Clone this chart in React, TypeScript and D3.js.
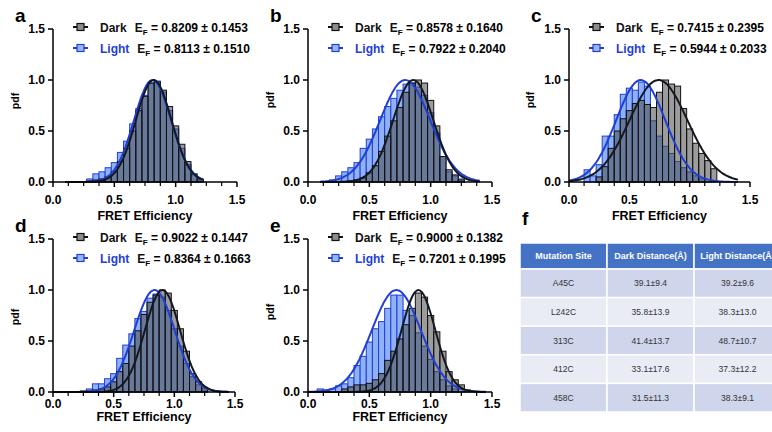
import React from "react";
import * as d3 from "d3";

// histogram bins (bin centres, width 0.05)
const binCenters = [0.10, 0.15, 0.20, 0.25, 0.30, 0.35, 0.40, 0.45, 0.50, 0.55, 0.60, 0.65, 0.70, 0.75, 0.80, 0.85, 0.90, 0.95, 1.00, 1.05, 1.10, 1.15, 1.20, 1.25, 1.30, 1.35, 1.40, 1.45];
const binWidth = 0.05;

const darkA = [0, 0, 0, 0, 0.01, 0.02, 0.03, 0.05, 0.10, 0.20, 0.33, 0.50, 0.70, 0.84, 0.97, 0.98, 0.90, 0.74, 0.55, 0.37, 0.20, 0.08, 0.03, 0, 0, 0, 0, 0];
const lightA = [0, 0, 0, 0, 0.03, 0.08, 0.10, 0.14, 0.19, 0.29, 0.40, 0.57, 0.72, 0.85, 0.97, 0.99, 0.88, 0.70, 0.52, 0.33, 0.17, 0.07, 0.02, 0, 0, 0, 0, 0];
const darkB = [0, 0, 0, 0, 0, 0.01, 0.02, 0.04, 0.09, 0.16, 0.30, 0.45, 0.60, 0.73, 0.88, 0.97, 1.0, 0.97, 0.80, 0.55, 0.25, 0.12, 0.07, 0.02, 0, 0, 0, 0];
const lightB = [0, 0, 0.02, 0.06, 0.10, 0.14, 0.19, 0.33, 0.42, 0.52, 0.64, 0.74, 0.82, 0.90, 0.96, 0.97, 0.93, 0.85, 0.68, 0.48, 0.25, 0.10, 0.06, 0.03, 0, 0, 0, 0];
const darkC = [0, 0, 0, 0.05, 0.15, 0.33, 0.50, 0.62, 0.70, 0.77, 0.80, 0.76, 0.73, 0.88, 1.0, 0.96, 0.94, 0.72, 0.52, 0.38, 0.28, 0.21, 0.13, 0, 0, 0, 0, 0];
const lightC = [0, 0.12, 0.06, 0.17, 0.45, 0.45, 0.66, 0.86, 0.92, 0.90, 0.98, 0.94, 0.60, 0.45, 0.35, 0.28, 0.20, 0.14, 0.10, 0.06, 0.03, 0, 0, 0, 0, 0, 0, 0];
const darkD = [0, 0, 0, 0.01, 0.01, 0.02, 0.03, 0.05, 0.10, 0.20, 0.28, 0.45, 0.60, 0.76, 0.88, 0.95, 1.0, 0.97, 0.80, 0.62, 0.40, 0.18, 0.10, 0.04, 0, 0, 0, 0];
const lightD = [0, 0, 0, 0, 0.03, 0.08, 0.08, 0.13, 0.18, 0.33, 0.46, 0.57, 0.72, 0.79, 0.92, 0.96, 0.93, 0.80, 0.62, 0.45, 0.28, 0.15, 0.07, 0.02, 0, 0, 0, 0];
const darkE = [0, 0, 0, 0, 0.03, 0.05, 0.07, 0.07, 0.085, 0.12, 0.18, 0.31, 0.40, 0.52, 0.66, 0.82, 0.97, 0.93, 0.75, 0.59, 0.40, 0.20, 0.12, 0.07, 0.02, 0, 0, 0];
const lightE = [0.03, 0.02, 0.03, 0.06, 0.08, 0.14, 0.26, 0.35, 0.49, 0.62, 0.69, 0.82, 0.95, 0.95, 0.80, 0.75, 0.58, 0.45, 0.32, 0.20, 0.12, 0.06, 0.03, 0, 0, 0, 0, 0];

// legend values (E_F mean ± sd), also used for the gaussian fit lines
const darkMean = [0.8209, 0.8578, 0.7415, 0.9022, 0.9000];
const darkSd = [0.1453, 0.1640, 0.2395, 0.1447, 0.1382];
const lightMean = [0.8113, 0.7922, 0.5944, 0.8364, 0.7201];
const lightSd = [0.1510, 0.2040, 0.2033, 0.1663, 0.1995];
const fitStart = [0.1, 0.1, 0.0, 0.0, 0.0];
const fitEnd = [1.22, 1.4, 1.4, 1.45, 1.45];

const letters = ["a", "b", "c", "d", "e"];
const xTicks = [0, 0.5, 1.0, 1.5];
const xMinor = [0.125, 0.25, 0.375, 0.625, 0.75, 0.875, 1.125, 1.25, 1.375];
const yTicks = [0, 0.5, 1.0, 1.5];

// table f
const tableHeader = ["Mutation Site", "Dark Distance(Å)", "Light Distance(Å)"];
const sites = ["A45C", "L242C", "313C", "412C", "458C"];
const darkDist = ["39.1±9.4", "35.8±13.9", "41.4±13.7", "33.1±17.6", "31.5±11.3"];
const lightDist = ["39.2±9.6", "38.3±13.0", "48.7±10.7", "37.3±12.2", "38.3±9.1"];

const FONT = "'Liberation Sans', Arial, Helvetica, sans-serif";
const BLUE = "#1f3fd6";

const layout = [
  { x0: 53, x1: 237, y0: 182, y1: 29, tickDy: 22, titleDy: 38, pdfX: 19, pdfY: 101 },
  { x0: 308, x1: 492, y0: 182, y1: 29, tickDy: 22, titleDy: 38, pdfX: 274, pdfY: 100 },
  { x0: 569, x1: 750, y0: 182, y1: 29, tickDy: 22, titleDy: 38, pdfX: 534, pdfY: 100 },
  { x0: 53, x1: 235, y0: 392, y1: 239, tickDy: 16, titleDy: 29, pdfX: 19, pdfY: 317 },
  { x0: 308, x1: 492, y0: 392, y1: 239, tickDy: 16, titleDy: 29, pdfX: 274, pdfY: 312 },
];

const darkSets = [darkA, darkB, darkC, darkD, darkE];
const lightSets = [lightA, lightB, lightC, lightD, lightE];

function Panel({ i }: { i: number }) {
  const L = layout[i];
  const x = d3.scaleLinear().domain([0, 1.5]).range([L.x0, L.x1]);
  const y = d3.scaleLinear().domain([0, 1.5]).range([L.y0, L.y1]);
  const line = d3.line<number>().x((t) => x(t)).curve(d3.curveBasis);
  const samples = d3.range(fitStart[i], fitEnd[i] + 1e-9, 0.01);
  const gauss = (m: number, s: number) =>
    line.y((t) => y(Math.exp(-((t - m) ** 2) / (2 * s * s))))(samples) || "";

  const bars = (vals: number[], fill: string, fillOp: number, stroke: string) =>
    binCenters.map((c, k) =>
      vals[k] > 0 ? (
        <rect
          key={k}
          x={x(c - binWidth / 2)}
          y={y(vals[k])}
          width={x(c + binWidth / 2) - x(c - binWidth / 2)}
          height={y(0) - y(vals[k])}
          fill={fill}
          fillOpacity={fillOp}
          stroke={stroke}
          strokeWidth={1}
        />
      ) : null
    );

  const legendRows = [
    { label: "Dark", color: "#111", sq: "#8c8c8c", m: darkMean[i], s: darkSd[i], dy: -2 },
    { label: "Light", color: BLUE, sq: "#9ab6f5", m: lightMean[i], s: lightSd[i], dy: 19 },
  ];

  return (
    <g>
      <text x={L.x0 - 38} y={L.y1 - 7} fontSize={19} fontWeight="bold">{letters[i]}</text>
      {bars(lightSets[i], "#8fb1f7", 1, BLUE)}
      {bars(darkSets[i], "#4a4a4a", 0.55, "#111")}
      <path d={gauss(lightMean[i], lightSd[i])} fill="none" stroke={BLUE} strokeWidth={2} />
      <path d={gauss(darkMean[i], darkSd[i])} fill="none" stroke="#141820" strokeWidth={2} />

      {/* axes */}
      <line x1={L.x0} x2={L.x1} y1={L.y0} y2={L.y0} stroke="#000" strokeWidth={1.5} />
      <line x1={L.x0} x2={L.x0} y1={L.y0} y2={L.y1} stroke="#000" strokeWidth={1.5} />
      {xTicks.map((t) => (
        <g key={"xt" + t}>
          <line x1={x(t)} x2={x(t)} y1={L.y0} y2={L.y0 + 5} stroke="#000" strokeWidth={1.5} />
          <text x={x(t)} y={L.y0 + L.tickDy} textAnchor="middle" fontSize={12} fontWeight="bold">
            {d3.format(".1f")(t)}
          </text>
        </g>
      ))}
      {xMinor.map((t) => (
        <line key={"xm" + t} x1={x(t)} x2={x(t)} y1={L.y0} y2={L.y0 + 4} stroke="#000" strokeWidth={1.2} />
      ))}
      {yTicks.map((t) => (
        <g key={"yt" + t}>
          <line x1={L.x0 - 5} x2={L.x0} y1={y(t)} y2={y(t)} stroke="#000" strokeWidth={1.5} />
          <text x={L.x0 - 8} y={y(t) + 4} textAnchor="end" fontSize={12} fontWeight="bold">
            {d3.format(".1f")(t)}
          </text>
        </g>
      ))}
      <text x={(L.x0 + L.x1) / 2} y={L.y0 + L.titleDy} textAnchor="middle" fontSize={12.5} fontWeight="bold">
        FRET Efficiency
      </text>
      <text
        transform={`translate(${L.pdfX},${L.pdfY}) rotate(-90)`}
        textAnchor="middle"
        fontSize={10.5}
        fontWeight="bold"
      >
        pdf
      </text>

      {/* legend */}
      {legendRows.map((r) => {
        const ly = L.y1 + r.dy;
        return (
          <g key={r.label}>
            <line x1={L.x0 + 20} x2={L.x0 + 35} y1={ly} y2={ly} stroke={r.color} strokeWidth={2} />
            <rect x={L.x0 + 24} y={ly - 3.5} width={7} height={7} fill={r.sq} stroke={r.color} strokeWidth={1.2} />
            <text x={L.x0 + 47} y={ly + 4.5} fontSize={12} fontWeight="bold">
              <tspan fill={r.color}>{r.label}</tspan>
              <tspan dx={8} fill="#111">E</tspan>
              <tspan fontSize={8} dy={3}>F</tspan>
              <tspan dy={-3}>{` = ${r.m.toFixed(4)} ± ${r.s.toFixed(4)}`}</tspan>
            </text>
          </g>
        );
      })}
    </g>
  );
}

function Table() {
  const cols = [520, 607, 694, 781];
  const top = 243;
  const headH = 26;
  const rowH = 28.6;
  const rows = sites.map((s, k) => [s, darkDist[k], lightDist[k]]);
  return (
    <g>
      <text x={522} y={225} fontSize={19} fontWeight="bold">f</text>
      {tableHeader.map((h, c) => (
        <g key={h}>
          <rect x={cols[c]} y={top} width={cols[c + 1] - cols[c]} height={headH} fill="#4472c4" stroke="#fff" strokeWidth={1.5} />
          <text x={(cols[c] + cols[c + 1]) / 2} y={top + headH / 2 + 3.2} textAnchor="middle" fontSize={9} fontWeight="bold" fill="#fff">
            {h}
          </text>
        </g>
      ))}
      {rows.map((r, k) =>
        r.map((v, c) => (
          <g key={k + "-" + c}>
            <rect
              x={cols[c]}
              y={top + headH + k * rowH}
              width={cols[c + 1] - cols[c]}
              height={rowH}
              fill={k % 2 === 0 ? "#cfd5ea" : "#e9ebf5"}
              stroke="#fff"
              strokeWidth={1.5}
            />
            <text
              x={(cols[c] + cols[c + 1]) / 2}
              y={top + headH + k * rowH + rowH / 2 + 3}
              textAnchor="middle"
              fontSize={8.5}
              fill="#333"
            >
              {v}
            </text>
          </g>
        ))
      )}
    </g>
  );
}

export default function App() {
  return (
    <svg
      width={772}
      height={432}
      style={{ position: "absolute", left: 0, top: 0, background: "#fff" }}
      fontFamily={FONT}
    >
      <rect width={772} height={432} fill="#fff" />
      {layout.map((_, i) => (
        <Panel key={i} i={i} />
      ))}
      <Table />
    </svg>
  );
}
